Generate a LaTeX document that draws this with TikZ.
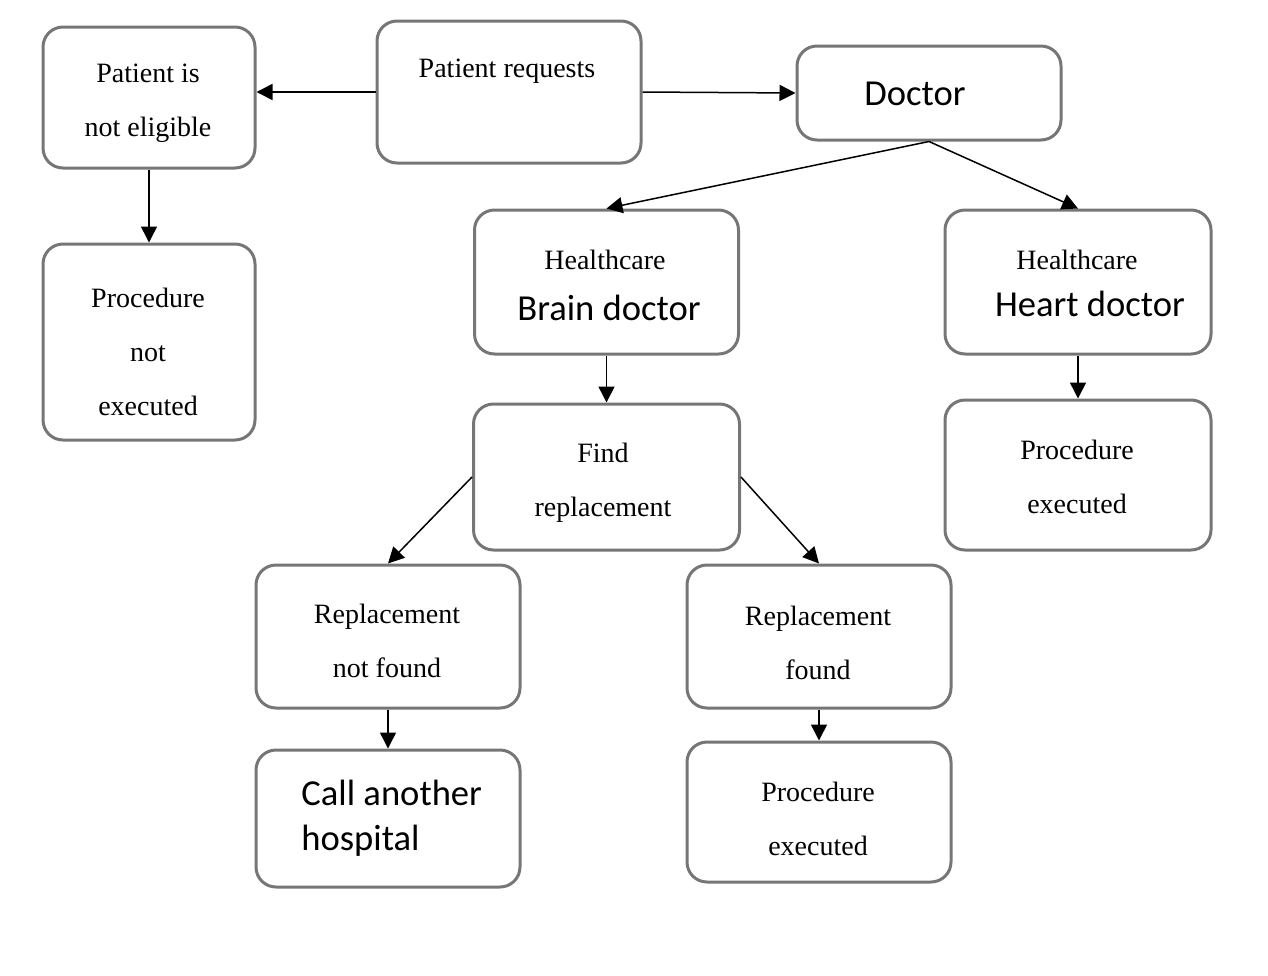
\documentclass[tikz,border=0pt]{standalone}
\usepackage{fontspec}
\setmainfont{Liberation Serif}
\newfontfamily\calib{Carlito}
\usetikzlibrary{arrows.meta}

\definecolor{boxgray}{HTML}{767676}

\tikzset{
  box/.style={draw=boxgray, line width=1.5pt, rounded corners=10pt,
    minimum width=132pt, minimum height=72pt, inner sep=0pt},
  txt/.style={inner sep=0pt, align=center, font=\fontsize{14}{27}\selectfont},
  big/.style={inner sep=0pt, font=\calib\fontsize{18.3}{22.5}\selectfont},
  link/.style={-{Triangle[length=8pt,width=8pt]}, line width=0.75pt}
}

\begin{document}
\begin{tikzpicture}[x=0.5pt,y=-0.5pt]
    \useasboundingbox (0,0) rectangle (1268,975);

    % boxes
    \node[box, minimum width=106pt, minimum height=70.5pt] (inel) at (149,97.5) {};
    \node[box, minimum height=71pt] (req) at (509,92) {};
    \node[box, minimum height=47pt] (doc) at (929,93) {};
    \node[box, minimum width=106pt, minimum height=98pt] (notexec) at (149,342) {};
    \node[box] (brain) at (606.5,282) {};
    \node[box, minimum width=133pt] (heart) at (1078,282) {};
    \node[box, minimum width=133pt, minimum height=73pt] (find) at (606.5,477) {};
    \node[box, minimum width=133pt, minimum height=75pt] (exec) at (1078,475) {};
    \node[box, minimum height=71.5pt] (notfound) at (388,636.5) {};
    \node[box, minimum height=71.5pt] (found) at (819,636.5) {};
    \node[box, minimum height=68.5pt] (call) at (388,818.5) {};
    \node[box, minimum height=70pt] (exectwo) at (819,812) {};

    % labels
    \node[txt] (t-inel) at (148,103) {Patient is\\not eligible};
    \node[txt] (t-req) at (507,71) {Patient requests};
    \node[big] (t-doc) at (915,94) {Doctor};
    \node[txt] (t-notexec) at (148,352) {Procedure\\not\\executed};
    \node[txt] (t-brainA) at (605,260) {Healthcare};
    \node[big] (t-brainB) at (609,308) {Brain doctor};
    \node[txt] (t-heartA) at (1077,260) {Healthcare};
    \node[big] (t-heartB) at (1090,304) {Heart doctor};
    \node[txt] (t-find) at (603,483) {Find\\replacement};
    \node[txt] (t-exec) at (1077,477) {Procedure\\executed};
    \node[txt] (t-notfound) at (387,641) {Replacement\\not found};
    \node[txt] (t-found) at (818,643) {Replacement\\found};
    \node[big, align=left, anchor=west] (t-call) at (301,818) {Call another\\hospital};
    \node[txt] (t-exectwo) at (818,819) {Procedure\\executed};

    % arrows
    \draw[link] (req.west) -- (req.west -| inel.east);
    \draw[link] (req.east) -- (doc.west);
    \draw[link] (inel.south) -- (notexec.north);
    \draw[link] (doc.south) -- (brain.north);
    \draw[link] (doc.south) -- (heart.north);
    \draw[link] (brain.south) -- (find.north);
    \draw[link] (heart.south) -- (exec.north);
    \draw[link] (find.west) -- (notfound.north);
    \draw[link] (find.east) -- (found.north);
    \draw[link] (notfound.south) -- (call.north);
    \draw[link] (found.south) -- (exectwo.north);
\end{tikzpicture}
\end{document}
